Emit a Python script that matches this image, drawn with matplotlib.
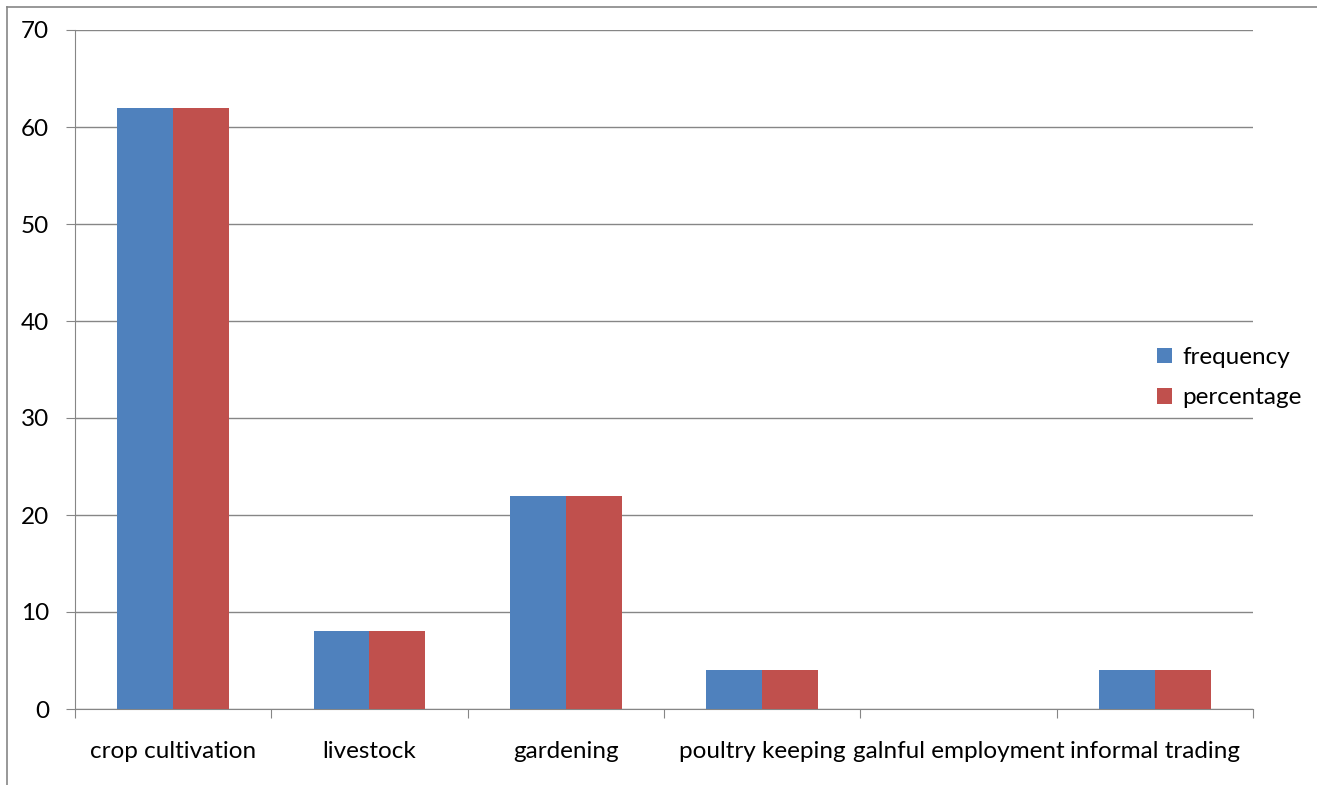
import numpy as np
import matplotlib.pyplot as plt
from matplotlib.lines import Line2D

categories = ['crop cultivation', 'livestock', 'gardening', 'poultry keeping',
              'galnful employment', 'informal trading']
frequency = [62, 8, 22, 4, 0, 4]
percentage = [62, 8, 22, 4, 0, 4]

plt.rcParams['font.family'] = ['Lato', 'DejaVu Sans']
fs = 17.5

fig = plt.figure(figsize=(13.17, 7.85), dpi=100)
ax = fig.add_axes([75/1317, 1 - 709/785, 1178/1317, 679/785])

x = np.arange(len(categories))
w = 0.285
ax.bar(x - w/2, frequency, w, color='#4F81BD', label='frequency', zorder=3)
ax.bar(x + w/2, percentage, w, color='#C0504D', label='percentage', zorder=3)

ax.set_xlim(-0.5, len(categories) - 0.5)
ax.set_ylim(0, 70)
ax.set_yticks(range(0, 71, 10))
ax.tick_params(axis='y', labelsize=fs, length=6.5, color='#868686', pad=12)
ax.grid(axis='y', color='#868686', linewidth=1, zorder=0)

ax.set_xticks(np.arange(-0.5, len(categories), 1))
ax.set_xticklabels([])
ax.set_xticks(x, minor=True)
ax.set_xticklabels(categories, minor=True, fontsize=fs)
ax.tick_params(axis='x', which='major', length=6.5, color='#868686')
ax.tick_params(axis='x', which='minor', length=0, pad=23)

for s in ['top', 'right']:
    ax.spines[s].set_visible(False)
for s in ['left', 'bottom']:
    ax.spines[s].set_color('#868686')

ax.legend(loc='center left', bbox_to_anchor=(0.9, 0.488), frameon=False,
          fontsize=fs, handlelength=0.6, handleheight=0.6, handletextpad=0.45,
          labelspacing=0.8)

fig.add_artist(Line2D([7/1317, 7/1317], [0, 1 - 7/785], color='#868686', lw=1.2))
fig.add_artist(Line2D([7/1317, 1], [1 - 7/785, 1 - 7/785], color='#868686', lw=1.2))

fig.savefig('out.png', dpi=100)
